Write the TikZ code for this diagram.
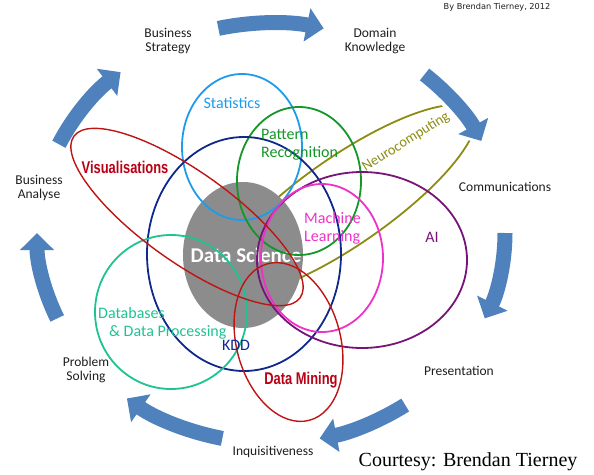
\documentclass[tikz,border=0pt]{standalone}
\usepackage{fontspec}
\setmainfont{Carlito}
\newfontfamily\condfont[FakeStretch=0.76]{Liberation Sans}
\newfontfamily\courtfont{Liberation Serif}
\newfontfamily\creditfont{DejaVu Sans}
\usetikzlibrary{arrows.meta}

\definecolor{arrowblue}{RGB}{79,129,189}
\definecolor{statblue}{RGB}{30,155,235}
\definecolor{patgreen}{RGB}{20,150,40}
\definecolor{kddblue}{RGB}{15,40,140}
\definecolor{dbteal}{RGB}{30,195,145}
\definecolor{mlpink}{RGB}{238,50,200}
\definecolor{aipurple}{RGB}{120,20,120}
\definecolor{neuroolive}{RGB}{140,140,20}
\definecolor{visred}{RGB}{190,20,20}
\definecolor{vistext}{RGB}{185,0,20}
\definecolor{dsgray}{RGB}{140,140,140}
\definecolor{labelgray}{RGB}{30,30,30}

\tikzset{
  ring/.style={line width=1.8pt},
  thinring/.style={line width=1.4pt},
  cyclearrow/.style={draw=arrowblue, line width=15pt,
    -{Triangle[length=17pt,width=33pt]}},
  arrowhalo/.style={draw=white, line width=23pt,
    -{Triangle[length=22pt,width=43pt]}},
  cyclelabel/.style={font=\fontsize{13.5}{14.5}\selectfont, text=labelgray,
    align=center, inner sep=0pt},
  field/.style={font=\fontsize{16}{18}\selectfont, inner sep=0pt},
  boldfield/.style={font=\condfont\bfseries\fontsize{17}{19}\selectfont,
    text=vistext, inner sep=0pt}
}

\begin{document}
\begin{tikzpicture}[x=1pt,y=-1pt]
\useasboundingbox (0,0) rectangle (594,474);

% Neurocomputing sits underneath the grey core
\draw[ring, neuroolive, rotate around={34.8:(345.9,200.5)}]
  (345.9,200.5) ellipse [x radius=155, y radius=44];

% grey core
\fill[dsgray] (243,255) ellipse [x radius=60, y radius=73];
\node[font=\bfseries\fontsize{21}{23}\selectfont, text=white, inner sep=0pt]
  (ds) at (246,255) {Data Science};

% overlapping fields
\draw[ring, statblue] (242,147) ellipse [x radius=60, y radius=73];
\draw[ring, patgreen] (299,181) ellipse [x radius=62, y radius=74];
\draw[ring, kddblue] (244,254) ellipse [x radius=97, y radius=117];
\draw[ring, dbteal] (171,312) ellipse [x radius=76, y radius=77];
\draw[ring, aipurple] (362,260) ellipse [x radius=105, y radius=88];
\draw[ring, mlpink] (322,258) ellipse [x radius=61, y radius=74];
\draw[thinring, visred, rotate around={-35.5:(187,217)}]
  (187,217) ellipse [x radius=139, y radius=45];
\draw[thinring, visred, rotate around={15:(288.5,342)}]
  (288.5,342) ellipse [x radius=52, y radius=81];

% field labels
\node[field, text=statblue] (stat) at (232,103) {Statistics};
\node[field, text=patgreen, align=left, anchor=west] (pat) at (261,145)
  {Pattern\\Recognition};
\node[field, text=mlpink, align=left, anchor=west] (ml) at (304,228)
  {Machine\\Learning};
\node[field, text=neuroolive, font=\fontsize{14.5}{16}\selectfont, rotate=32]
  (neuro) at (406,142) {Neurocomputing};
\node[field, text=aipurple] (ai) at (432,237) {AI};
\node[field, text=dbteal, anchor=base west] (db1) at (98,318) {Databases};
\node[field, text=dbteal, anchor=base west] (db2) at (109,336) {\& Data Processing};
\node[field, text=kddblue] (kdd) at (236,345) {KDD};
\node[boldfield] (vis) at (125,167) {Visualisations};
\node[boldfield] (dm) at (301,380) {Data Mining};

% cycle of skills
\node[cyclelabel] (bs) at (168,41) {Business\\Strategy};
\node[cyclelabel] (dk) at (375,41) {Domain\\Knowledge};
\node[cyclelabel] (com) at (505,187) {Communications};
\node[cyclelabel] (pres) at (459,371) {Presentation};
\node[cyclelabel] (inq) at (273,452) {Inquisitiveness};
\node[cyclelabel] (ps) at (86,370) {Problem\\Solving};
\node[cyclelabel] (ba) at (39,188) {Business\\Analyse};

\coordinate (hub) at (271,233);
% white gap where the Neurocomputing tip runs under the second arrow
\path (hub) ++(311:234 and 210) coordinate (halo2);
\draw[arrowhalo] (halo2) arc[start angle=311, end angle=335.2,
  x radius=234, y radius=210];
\foreach \s/\e/\n in {257/283/1, 311/334/2, 0/24/3, 55/78/4,
                      102/128/5, 156/180/6, 205/230/7} {
  \path (hub) ++(\s:234 and 210) coordinate (cs\n);
  \draw[cyclearrow] (cs\n) arc[start angle=\s, end angle=\e,
    x radius=234, y radius=210];
}

% credits
\node[font=\creditfont\fontsize{8.2}{10}\selectfont, text=labelgray, inner sep=0pt]
  (by) at (497,7) {By Brendan Tierney, 2012};
\node[font=\courtfont\fontsize{20}{22}\selectfont, inner sep=0pt]
  (court) at (468,462) {Courtesy: Brendan Tierney};
\end{tikzpicture}
\end{document}
